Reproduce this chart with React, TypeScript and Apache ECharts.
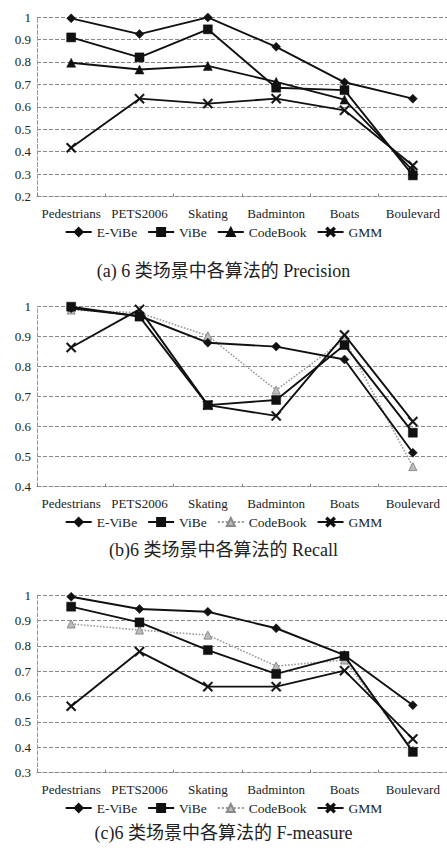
import React, { useEffect, useRef } from "react";
import * as echarts from "echarts";

const categories = ["Pedestrians", "PETS2006", "Skating", "Badminton", "Boats", "Boulevard"];
const seriesNames = ["E-ViBe", "ViBe", "CodeBook", "GMM"];

const precisionEViBe = [0.994, 0.924, 0.998, 0.867, 0.709, 0.636];
const precisionViBe = [0.909, 0.82, 0.945, 0.685, 0.674, 0.294];
const precisionCodeBook = [0.796, 0.766, 0.782, 0.711, 0.632, 0.315];
const precisionGMM = [0.417, 0.636, 0.614, 0.636, 0.584, 0.338];

const recallEViBe = [0.995, 0.969, 0.88, 0.867, 0.824, 0.513];
const recallViBe = [1.0, 0.967, 0.672, 0.689, 0.872, 0.58];
const recallCodeBook = [0.989, 0.98, 0.903, 0.722, 0.891, 0.467];
const recallGMM = [0.864, 0.991, 0.672, 0.636, 0.906, 0.617];

const fEViBe = [0.993, 0.945, 0.934, 0.869, 0.763, 0.566];
const fViBe = [0.954, 0.892, 0.783, 0.689, 0.76, 0.382];
const fCodeBook = [0.886, 0.862, 0.842, 0.72, 0.744, 0.389];
const fGMM = [0.562, 0.777, 0.639, 0.639, 0.702, 0.433];

const precisionTicks = { min: 0.2, max: 1, interval: 0.1 };
const recallTicks = { min: 0.4, max: 1, interval: 0.1 };
const fTicks = { min: 0.3, max: 1, interval: 0.1 };

const captionA = "(a) 6 类场景中各算法的 Precision";
const captionB = "(b)6 类场景中各算法的 Recall";
const captionC = "(c)6 类场景中各算法的 F-measure";

const FONT = "Liberation Serif";
const CAPFONT = "Liberation Serif, Noto Sans CJK SC";
const CROSS = "path://M0,1.2L1.2,0L5,3.8L8.8,0L10,1.2L6.2,5L10,8.8L8.8,10L5,6.2L1.2,10L0,8.8L3.8,5Z";

type Cfg = {
  height: number;
  gridTop: number;
  gridBottom: number;
  ticks: { min: number; max: number; interval: number };
  values: number[][];
  grayCodeBook: boolean;
  legendTop: number;
  captionTop: number;
  caption: string;
};

function buildOption(c: Cfg) {
  const symbols = ["diamond", "rect", "triangle", CROSS];
  const sizes = [9, 9, 9, 10];
  const series = seriesNames.map((name, i) => {
    const gray = c.grayCodeBook && i === 2;
    return {
      name,
      type: "line",
      data: c.values[i],
      symbol: symbols[i],
      symbolSize: gray ? 8 : sizes[i],
      z: gray ? 1 : 3,
      lineStyle: {
        color: gray ? "#9a9a9a" : "#111",
        width: gray ? 1.6 : 1.9,
        type: gray ? "dotted" : "solid",
      },
      itemStyle: {
        color: gray ? "#bdbdbd" : "#111",
        borderColor: gray ? "#8a8a8a" : "#111",
        borderWidth: gray ? 1 : 0.5,
      },
    };
  });
  return {
    animation: false,
    title: {
      text: c.caption,
      left: "center",
      top: c.captionTop,
      textStyle: { fontFamily: CAPFONT, fontWeight: "normal", fontSize: 18, color: "#222" },
    },
    legend: {
      data: seriesNames,
      top: c.legendTop,
      left: "center",
      itemWidth: 26,
      itemHeight: 10,
      itemGap: 10,
      textStyle: { fontFamily: FONT, fontSize: 13.5, color: "#222" },
    },
    grid: { left: 37, right: -2, top: c.gridTop, bottom: c.gridBottom, containLabel: false },
    xAxis: {
      type: "category",
      data: categories,
      boundaryGap: true,
      axisLine: { show: true, lineStyle: { color: "#888", type: "dashed", width: 1 } },
      axisTick: { show: true, inside: true, length: 3, lineStyle: { color: "#888" } },
      axisLabel: { fontFamily: FONT, fontSize: 13, color: "#222", margin: 10, interval: 0 },
    },
    yAxis: {
      type: "value",
      min: c.ticks.min,
      max: c.ticks.max,
      interval: c.ticks.interval,
      axisLine: { show: true, lineStyle: { color: "#999", type: "dashed", width: 1 } },
      axisTick: { show: false },
      axisLabel: {
        fontFamily: FONT,
        fontSize: 13,
        color: "#222",
        margin: 6,
        formatter: (v: number) => {
          const r = Math.round(v * 10) / 10;
          return r === 1 ? "1" : r.toFixed(1);
        },
      },
      splitLine: { show: true, lineStyle: { color: "#888", type: "dashed", width: 1 } },
    },
    series,
  };
}

function Chart({ cfg }: { cfg: Cfg }) {
  const ref = useRef<HTMLDivElement>(null);
  useEffect(() => {
    if (!ref.current) return;
    const chart = echarts.init(ref.current, null, { renderer: "svg" });
    chart.setOption(buildOption(cfg) as any);
    return () => chart.dispose();
  }, [cfg]);
  return <div ref={ref} style={{ width: 447, height: cfg.height }} />;
}

const cfgA: Cfg = {
  height: 285,
  gridTop: 17,
  gridBottom: 88.5,
  ticks: precisionTicks,
  values: [precisionEViBe, precisionViBe, precisionCodeBook, precisionGMM],
  grayCodeBook: false,
  legendTop: 220,
  captionTop: 257,
  caption: captionA,
};
const cfgB: Cfg = {
  height: 285,
  gridTop: 21.7,
  gridBottom: 83.3,
  ticks: recallTicks,
  values: [recallEViBe, recallViBe, recallCodeBook, recallGMM],
  grayCodeBook: true,
  legendTop: 225,
  captionTop: 251,
  caption: captionB,
};
const cfgC: Cfg = {
  height: 284,
  gridTop: 25,
  gridBottom: 81.3,
  ticks: fTicks,
  values: [fEViBe, fViBe, fCodeBook, fGMM],
  grayCodeBook: true,
  legendTop: 226,
  captionTop: 249,
  caption: captionC,
};

export default function App() {
  return (
    <div style={{ position: "absolute", left: 0, top: 0, width: 447, height: 854, background: "#fff" }}>
      <Chart cfg={cfgA} />
      <Chart cfg={cfgB} />
      <Chart cfg={cfgC} />
    </div>
  );
}
